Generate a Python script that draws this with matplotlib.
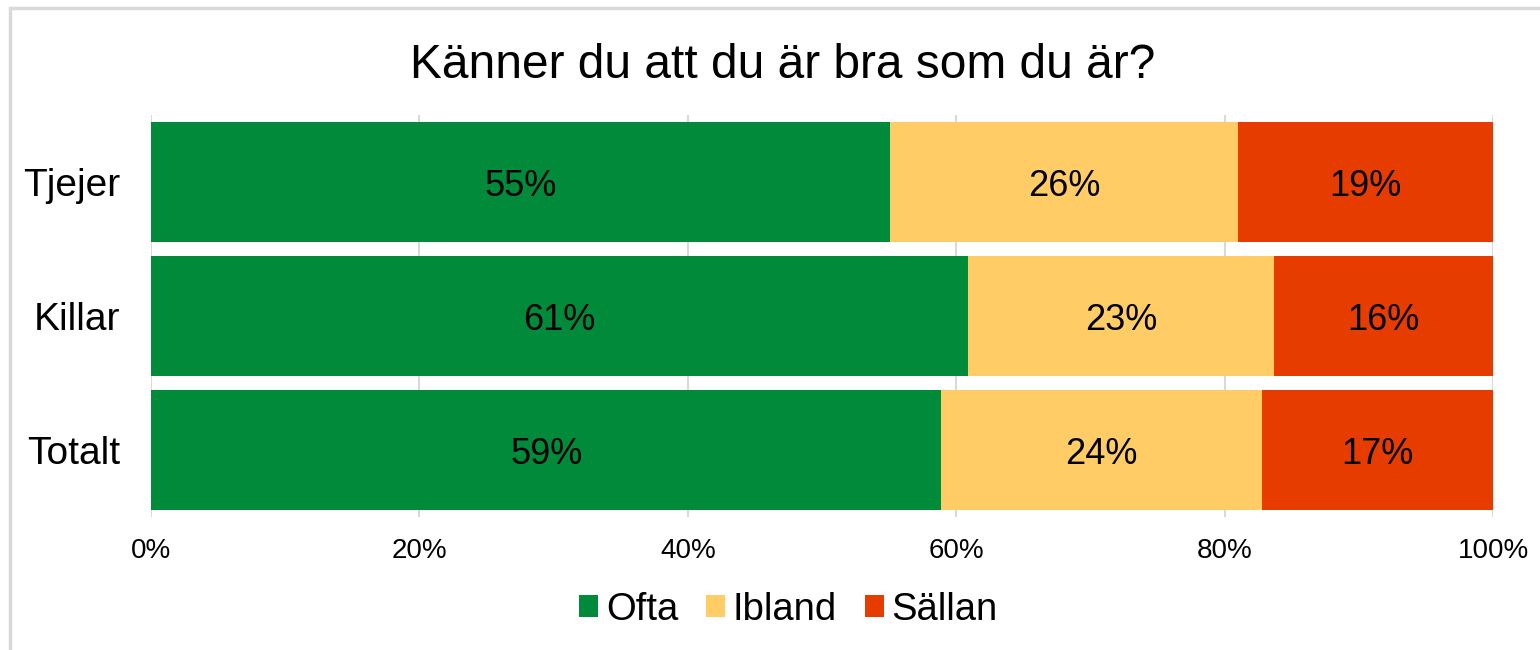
import matplotlib
matplotlib.use("Agg")
import matplotlib.pyplot as plt
from matplotlib.patches import Rectangle
import numpy as np

plt.rcParams['font.family'] = ['Liberation Sans', 'DejaVu Sans']

categories = ["Tjejer", "Killar", "Totalt"]
series = ["Ofta", "Ibland", "Sällan"]
ofta = [55.1, 60.9, 58.9]
ibland = [25.9, 22.8, 23.9]
sallan = [19.0, 16.3, 17.2]
colors = ["#008A3A", "#FFCC66", "#E63C00"]
xticks = [0, 20, 40, 60, 80, 100]

fig = plt.figure(figsize=(15.4, 6.5), dpi=100)
ax = fig.add_axes([151/1540, 1-517/650, (1493-151)/1540, (517-115)/650])

y = np.arange(len(categories))
left = np.zeros(len(categories))
for name, vals, col in zip(series, [ofta, ibland, sallan], colors):
    ax.barh(y, vals, left=left, height=0.9, color=col, label=name, zorder=2)
    for yi, l, v in zip(y, left, vals):
        ax.text(l + v/2, yi, "%.0f%%" % v, ha='center', va='center_baseline',
                fontsize=26, color='black', zorder=3)
    left = left + np.array(vals)

ax.set_xlim(0, 100)
ax.set_ylim(len(categories) - 0.5, -0.5)
ax.set_yticks(y)
ax.set_yticklabels(categories, fontsize=28)
ax.set_xticks(xticks)
ax.set_xticklabels(["%d%%" % t for t in xticks], fontsize=20)
ax.tick_params(axis='y', length=0, pad=22)
ax.tick_params(axis='x', length=0, pad=15)
ax.grid(axis='x', color='#d9d9d9', linewidth=1.5, zorder=0)
for s in ax.spines.values():
    s.set_visible(False)

fig.suptitle("Känner du att du är bra som du är?", fontsize=34.5, x=0.508, y=0.934)

fig.legend(loc='center', bbox_to_anchor=(0.512, 0.062), ncol=3, frameon=False,
           fontsize=27.5, handlelength=0.5, handleheight=0.5, handletextpad=0.2,
           columnspacing=0.73)

fig.patches.append(Rectangle((10/1540, -0.1), 1.2, 1 - 8/650 + 0.1,
                             transform=fig.transFigure, fill=False,
                             edgecolor='#d9d9d9', linewidth=2.5))

fig.savefig("out.png", dpi=100)
